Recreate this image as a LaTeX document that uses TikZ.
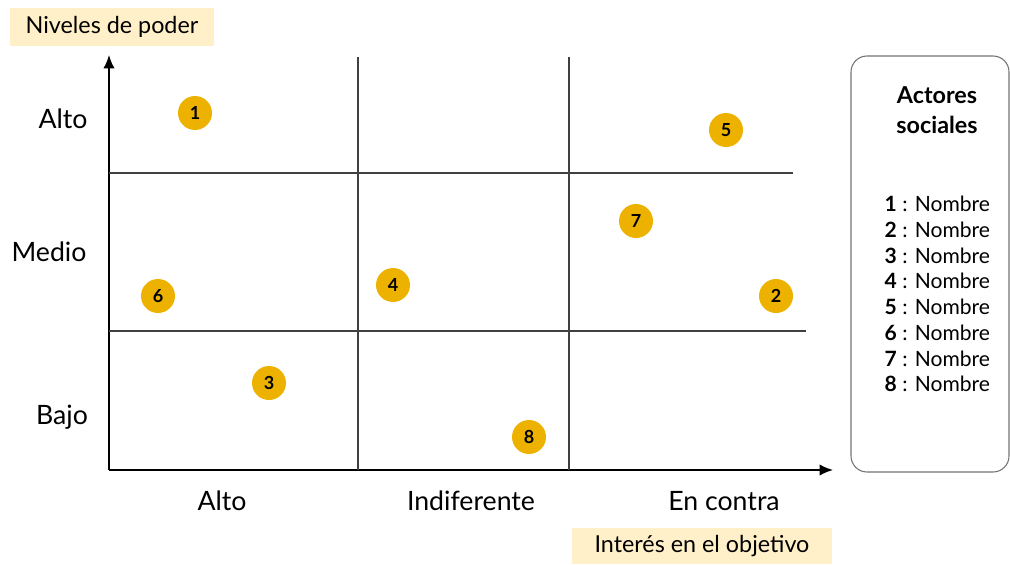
\documentclass[tikz,border=0pt]{standalone}
\usepackage{fontspec}
\setmainfont{Lato}
\usetikzlibrary{arrows.meta}
\definecolor{oro}{HTML}{EDB200}
\definecolor{crema}{HTML}{FFF0C9}
\tikzset{
  actor/.style={circle, fill=oro, minimum size=25.5pt, inner sep=0pt, font=\bfseries\fontsize{13.5}{15}\selectfont},
  eje/.style={font=\fontsize{20}{24}\selectfont},
  titulo/.style={fill=crema, font=\fontsize{17.5}{20}\selectfont},
  flecha/.style={-{Latex[length=10pt,width=8.5pt]}, line width=1.3pt}
}
\begin{document}
\begin{tikzpicture}[x=0.75pt, y=-0.75pt]
            \useasboundingbox (0,0) rectangle (1010,564);
            % ejes
            \coordinate (o) at (109,470);
            \coordinate (ytop) at (109,55);
            \coordinate (xend) at (833,470);
            \draw [flecha] (o) -- (ytop);
            \draw [flecha] (o) -- (xend);
            % cuadricula
            \draw [line width=0.8pt, black!75] (358,57) -- (358,470);
            \draw [line width=0.8pt, black!75] (569,57) -- (569,470);
            \draw [line width=0.8pt, black!75] (109,173) -- (793,173);
            \draw [line width=0.8pt, black!75] (109,331) -- (806,331);
            % niveles
            \node [eje] (alto) at (63,119) {Alto};
            \node [eje] (medio) at (49,252) {Medio};
            \node [eje] (bajo) at (62,417) {Bajo};
            \node [eje] (ialto) at (222,501) {Alto};
            \node [eje] (indif) at (471,501) {Indiferente};
            \node [eje] (contra) at (724,501) {En contra};
            \node [titulo, minimum width=153pt, minimum height=28.5pt] (poder) at (112,27) {Niveles de poder};
            \node [titulo, minimum width=195pt, minimum height=27pt] (interes) at (702,546) {Inter\'es en el objetivo};
            % actores
            \node [actor] (a1) at (195,113) {1};
            \node [actor] (a2) at (776,296) {2};
            \node [actor] (a3) at (269,383) {3};
            \node [actor] (a4) at (393,285) {4};
            \node [actor] (a5) at (726,130) {5};
            \node [actor] (a6) at (158,296) {6};
            \node [actor] (a7) at (636,221) {7};
            \node [actor] (a8) at (529,437) {8};
            % leyenda
            \draw [black!55, line width=0.8pt, rounded corners=12pt] (851,56) rectangle (1009,472);
            \node [font=\bfseries\fontsize{17.5}{22}\selectfont, align=center] (leyenda) at (937,110) {Actores\\sociales};
            \foreach \n [count=\i] in {204,230,256,281,307,333,359,384}
                \node [anchor=west, font=\fontsize{15.8}{18}\selectfont] (l\i) at (880,\n) {\textbf{\i} : Nombre};
        \end{tikzpicture}
\end{document}
